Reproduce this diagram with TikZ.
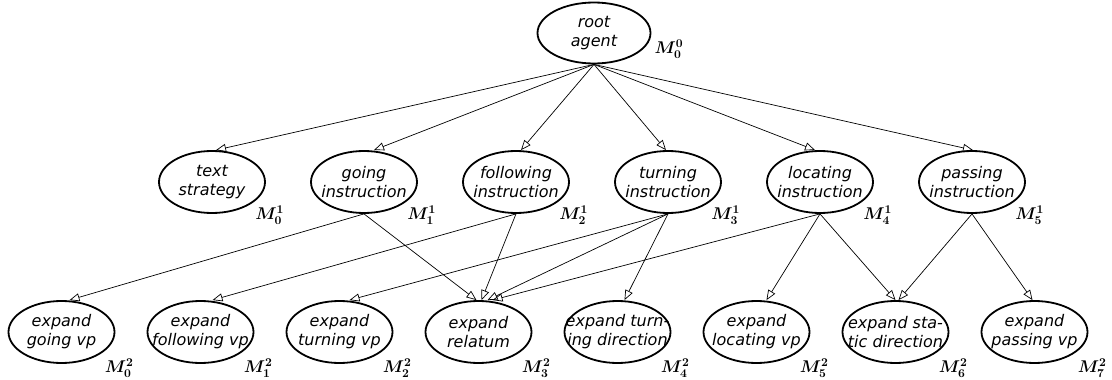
\documentclass[tikz,border=0pt]{standalone}
\usepackage{fix-cm}
\usepackage[no-math]{fontspec}
\setmainfont{DejaVu Sans}
\usetikzlibrary{shapes.geometric,arrows.meta}

% an agent is a fixed-size ellipse; its two-line name is set as a centred label
\tikzset{
  agenttext/.style={inner sep=0pt, align=center,
    font=\fontsize{16}{19}\selectfont\itshape},
  agent/.style={ellipse, draw, line width=1.8pt, minimum width=106pt,
    minimum height=62pt, inner sep=0pt,
    label={[agenttext]center:#1}},
  link/.style={-{Triangle[open,length=10pt,width=8pt]}, line width=0.7pt},
  mlabel/.style={anchor=north west, inner sep=0pt,
    font=\fontsize{17}{17}\selectfont\boldmath}
}

\begin{document}
\begin{tikzpicture}[x=1pt, y=-1pt]
  \useasboundingbox (0,0) rectangle (1112,380);

  % level 0
  \node[agent={root\\agent}, minimum width=113pt, minimum height=61pt] (root) at (594,33) {};

  % level 1
  \node[agent={text\\strategy}]        (ts) at (212,182) {};
  \node[agent={going\\instruction}]     (go) at (364,182) {};
  \node[agent={following\\instruction}] (fo) at (516,182) {};
  \node[agent={turning\\instruction}]   (tu) at (668,182) {};
  \node[agent={locating\\instruction}]  (lo) at (820,182) {};
  \node[agent={passing\\instruction}]   (pa) at (972,182) {};

  % level 2
  \node[agent={expand\\going vp}]           (ego)  at (61.5,332)   {};
  \node[agent={expand\\following vp}]       (efo)  at (200.5,332)  {};
  \node[agent={expand\\turning vp}]         (etu)  at (339.5,332)  {};
  \node[agent={expand\\relatum}]            (erel) at (478.5,332)  {};
  \node[agent={expand turn-\\ing direction}] (etd) at (617.5,332)  {};
  \node[agent={expand\\locating vp}]        (elo)  at (756.5,332)  {};
  \node[agent={expand sta-\\tic direction}] (esd)  at (895.5,332)  {};
  \node[agent={expand\\passing vp}]         (epa)  at (1034.5,332) {};

  % model labels
  \node[mlabel, anchor=west] (m-root) at ([xshift=3pt,yshift=-16pt]root.east) {$M^{0}_{0}$};
  \foreach \n/\s in {ts/0, go/1, fo/2, tu/3, lo/4, pa/5}
    \node[mlabel] (m-\n) at ([xshift=5pt,yshift=-1pt]\n.south east) {$M^{1}_{\s}$};
  \foreach \n/\s in {ego/0, efo/1, etu/2, erel/3, etd/4, elo/5, esd/6, epa/7}
    \node[mlabel] (m-\n) at ([xshift=5pt,yshift=-4pt]\n.south east) {$M^{2}_{\s}$};

  % root to level 1
  \draw[link] (root.south) -- ([xshift=4pt]ts.north);
  \draw[link] (root.south) -- ([xshift=10pt]go.north);
  \draw[link] (root.south) -- ([xshift=5pt]fo.north);
  \draw[link] (root.south) -- ([xshift=-2pt]tu.north);
  \draw[link] (root.south) -- ([xshift=-5pt]lo.north);
  \draw[link] (root.south) -- ([xshift=1pt]pa.north);

  % level 1 to level 2
  \draw[link] (go.south) -- ([xshift=8pt]ego.north);
  \draw[link] (go.south) -- ([xshift=-2pt]erel.north);
  \draw[link] (fo.south) -- ([xshift=12pt]efo.north);
  \draw[link] (fo.south) -- ([xshift=3pt]erel.north);
  \draw[link] (tu.south) -- ([xshift=10pt]etu.north);
  \draw[link] (tu.south) -- ([xshift=9pt]erel.north);
  \draw[link] (tu.south) -- ([xshift=7pt]etd.north);
  \draw[link] (lo.south) -- ([xshift=14pt]erel.north);
  \draw[link] (lo.south) -- ([xshift=10pt]elo.north);
  \draw[link] (lo.south) -- ([xshift=0pt]esd.north);
  \draw[link] (pa.south) -- ([xshift=3pt]esd.north);
  \draw[link] (pa.south) -- ([xshift=-2pt]epa.north);
\end{tikzpicture}
\end{document}
